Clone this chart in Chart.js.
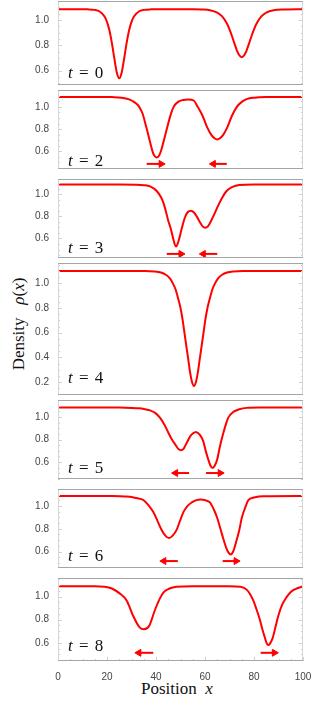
<!DOCTYPE html>
<html lang="en">
<head>
<meta charset="UTF-8">
<title>Density ρ(x) at several times</title>
<script src="https://cdn.jsdelivr.net/npm/chart.js"></script>
<style>
  html, body { margin: 0; padding: 0; background: #fff; }
  body { position: relative; width: 312px; height: 708px; overflow: hidden; font-family: 'Liberation Serif', 'DejaVu Serif', serif; color: #111; }
  .panel { position: absolute; left: 0; width: 312px; }
  .tlab { position: absolute; left: 68px; font-size: 17px; line-height: 17px; word-spacing: 2px; white-space: nowrap; }
  #ytitle { position: absolute; left: 18px; top: 324px; font-size: 17px; line-height: 17px; white-space: nowrap;
            transform: translate(-50%, -50%) rotate(-90deg); }
  #xtitle { position: absolute; left: 141px; top: 680px; font-size: 17px; line-height: 17px; white-space: nowrap; }
</style>
</head>
<body>

<div id="ytitle">Density&nbsp;&nbsp;&nbsp;<i>ρ</i>(<i>x</i>)</div>
<div id="xtitle">Position&nbsp;&nbsp;<i>x</i></div>

<script>
  // time of each panel
  const tLabels = ['0', '2', '3', '4', '5', '6', '8'];

  // density profiles
  const x0   = [0, 8, 12, 15, 17, 19, 20, 21, 22, 23, 24, 25, 26, 27, 28, 29, 30, 31, 33, 35, 38, 45, 55, 59, 62, 65, 67, 69, 70, 71, 72, 73, 74, 75, 76, 77, 78, 79, 80, 81, 83, 85, 88, 92, 100];
  const rho0 = [1.085, 1.085, 1.084, 1.080, 1.067, 1.028, 0.985, 0.917, 0.818, 0.696, 0.586, 0.540, 0.586, 0.696, 0.818, 0.917, 0.985, 1.028, 1.067, 1.080, 1.084, 1.085, 1.085, 1.083, 1.077, 1.058, 1.028, 0.970, 0.926, 0.874, 0.816, 0.761, 0.722, 0.707, 0.722, 0.761, 0.816, 0.874, 0.926, 0.970, 1.028, 1.058, 1.077, 1.083, 1.085];

  const x2   = [0, 15, 22, 26, 29, 31, 33, 34.5, 36, 37.5, 38.7, 39.5, 40.3, 41.1, 42, 43, 44.4, 46, 47.2, 49, 51, 53.2, 55.5, 57, 59, 61, 62.5, 64, 65, 66, 67.5, 69, 71, 73, 75, 77, 80, 85, 100];
  const rho2 = [1.09, 1.09, 1.088, 1.083, 1.068, 1.045, 1.005, 0.94, 0.82, 0.69, 0.59, 0.555, 0.544, 0.555, 0.60, 0.68, 0.80, 0.93, 1.0, 1.045, 1.062, 1.066, 1.055, 1.0, 0.92, 0.81, 0.75, 0.715, 0.707, 0.715, 0.75, 0.81, 0.92, 1.0, 1.045, 1.07, 1.083, 1.089, 1.09];

  const x3   = [0, 25, 32, 35, 37.6, 40.3, 42, 43, 44, 45, 46, 47, 47.6, 48.2, 48.8, 49.5, 50.5, 51.8, 53, 54.3, 55.5, 56.6, 58, 59, 60.1, 61.2, 62.5, 64, 65.4, 67, 68.8, 71, 74, 80, 100];
  const rho3 = [1.09, 1.09, 1.088, 1.083, 1.072, 1.03, 0.975, 0.925, 0.85, 0.76, 0.69, 0.60, 0.55, 0.527, 0.55, 0.60, 0.69, 0.79, 0.84, 0.852, 0.835, 0.80, 0.745, 0.71, 0.697, 0.71, 0.76, 0.83, 0.90, 0.97, 1.03, 1.065, 1.085, 1.09, 1.09];

  const x4   = [0, 35.5, 39.5, 42, 44, 45.5, 46.9, 48, 49, 50, 50.9, 51.6, 52.4, 53.2, 53.9, 54.7, 55.5, 56.3, 57.1, 57.8, 58.6, 59.4, 60.1, 61, 62, 63, 64.1, 65.5, 67, 69, 71.5, 75.5, 100];
  const rho4 = [1.10, 1.10, 1.097, 1.088, 1.07, 1.045, 1.0, 0.95, 0.88, 0.80, 0.70, 0.60, 0.49, 0.38, 0.28, 0.20, 0.168, 0.20, 0.28, 0.38, 0.49, 0.60, 0.70, 0.80, 0.88, 0.95, 1.0, 1.045, 1.07, 1.088, 1.097, 1.10, 1.10];

  const x5   = [0, 25, 30, 33, 35.5, 37.6, 39.8, 41.6, 43.5, 45, 46.5, 47.8, 49, 50.2, 51.3, 52.5, 54.3, 56.3, 58, 59.3, 60.3, 61.3, 62.2, 63.1, 64, 65, 66, 67.2, 68.3, 69.5, 71.5, 74, 77, 82, 100];
  const rho5 = [1.085, 1.085, 1.082, 1.078, 1.07, 1.06, 1.035, 0.995, 0.93, 0.863, 0.80, 0.758, 0.72, 0.705, 0.72, 0.77, 0.84, 0.868, 0.84, 0.784, 0.70, 0.626, 0.57, 0.547, 0.57, 0.626, 0.73, 0.837, 0.92, 0.995, 1.045, 1.07, 1.082, 1.085, 1.085];

  const x6   = [0, 22, 27, 29.4, 32, 34.8, 36.8, 38.9, 40.6, 42.3, 43.8, 45.3, 46.8, 48.4, 49.8, 51.2, 52.8, 54.6, 56.5, 58.2, 60, 62, 63.6, 65, 66.3, 67.5, 68.7, 69.6, 70.5, 71.5, 72.7, 74, 75, 76.3, 77.7, 80, 84, 100];
  const rho6 = [1.088, 1.088, 1.085, 1.082, 1.07, 1.053, 1.01, 0.947, 0.87, 0.79, 0.74, 0.718, 0.74, 0.79, 0.87, 0.947, 1.0, 1.032, 1.052, 1.058, 1.052, 1.032, 0.97, 0.895, 0.80, 0.71, 0.63, 0.59, 0.574, 0.60, 0.684, 0.79, 0.895, 0.98, 1.053, 1.075, 1.086, 1.088];

  const x7   = [0, 15, 19, 22, 25, 28, 30.7, 33.2, 35.1, 37.3, 39.6, 41.5, 43, 45.5, 48.4, 55, 70, 74.3, 77, 79.7, 81, 82.4, 83.5, 84.5, 85.2, 85.8, 86.6, 87.6, 88.8, 89.9, 91.5, 93.3, 95, 96.7, 100];
  const rho7 = [1.09, 1.09, 1.086, 1.07, 1.03, 0.967, 0.832, 0.736, 0.717, 0.75, 0.886, 0.98, 1.035, 1.07, 1.085, 1.09, 1.09, 1.085, 1.06, 0.967, 0.89, 0.80, 0.71, 0.64, 0.595, 0.58, 0.595, 0.64, 0.74, 0.832, 0.93, 0.995, 1.04, 1.063, 1.088];

  // direction arrows: tail x, tip x, height
  const arrowFrom = [[], [36.2, 68.9], [44.4, 65.0], [], [53.5, 60.4], [48.9, 67.2], [38.9, 82.7]];
  const arrowTo   = [[], [43.7, 61.8], [51.8, 57.7], [], [46.4, 67.8], [41.6, 74.3], [31.4, 89.9]];
  const arrowY    = [null, 0.486, 0.46, null, 0.503, 0.516, 0.513];

  // ticks
  const xTicks = [0, 20, 40, 60, 80, 100];
  const yTicksSmall = [0.6, 0.8, 1.0];
  const yTicksBig = [0.2, 0.4, 0.6, 0.8, 1.0];

  const xs = [x0, x2, x3, x4, x5, x6, x7];
  const rhos = [rho0, rho2, rho3, rho4, rho5, rho6, rho7];

  // layout of the stacked panels (px) and their value ranges
  const panelTop    = [1, 85, 174, 263, 395, 484, 573];
  const panelBottom = [85, 174, 263, 395, 484, 573, 661];
  const yMin = [0.487, 0.44, 0.423, 0.095, 0.45, 0.455, 0.442];
  const yMax = [1.150, 1.152, 1.139, 1.165, 1.152, 1.150, 1.161];
  const tLabelTop = [64, 152, 239, 369, 459, 547, 637];

  const RED = '#ff0000';
  const tickFont = { family: "'Liberation Sans', Arial, sans-serif", size: 10 };
  const tickColor = '#444';

  const framePlugin = {
    id: 'frame',
    afterDatasetsDraw(chart) {
      const { ctx, chartArea: a, scales: { x, y } } = chart;
      ctx.save();
      ctx.lineWidth = 1;
      ctx.strokeStyle = '#cfcfcf';
      ctx.beginPath();
      for (let k = Math.ceil(y.min * 20); k <= Math.floor(y.max * 20); k++) {
        const py = Math.round(y.getPixelForValue(k / 20)) + 0.5;
        const len = k % 4 === 0 ? 4 : 2;
        ctx.moveTo(a.left, py); ctx.lineTo(a.left + len, py);
        ctx.moveTo(a.right, py); ctx.lineTo(a.right - len, py);
      }
      if (chart.options.scales.x.display) {
        for (let k = 0; k <= 20; k++) {
          const px = Math.round(x.getPixelForValue(k * 5)) + 0.5;
          const len = k % 4 === 0 ? 4 : 2;
          ctx.moveTo(px, a.bottom); ctx.lineTo(px, a.bottom - len);
        }
      }
      ctx.stroke();
      ctx.strokeStyle = '#d6d6d6';
      ctx.beginPath();
      ctx.moveTo(Math.round(a.left) + 0.5, a.top); ctx.lineTo(Math.round(a.left) + 0.5, a.bottom);
      ctx.moveTo(Math.round(a.right) - 0.5, a.top); ctx.lineTo(Math.round(a.right) - 0.5, a.bottom);
      ctx.stroke();
      ctx.strokeStyle = '#a6a6a6';
      ctx.beginPath();
      ctx.moveTo(a.left, Math.round(a.top) + 0.5); ctx.lineTo(a.right, Math.round(a.top) + 0.5);
      ctx.moveTo(a.left, Math.round(a.bottom) - 0.5); ctx.lineTo(a.right, Math.round(a.bottom) - 0.5);
      ctx.stroke();
      ctx.restore();
    }
  };

  function arrowSets(from, to, y) {
    return from.map((f, i) => {
      const dir = Math.sign(to[i] - f);
      return {
        data: [{ x: f, y: y }, { x: to[i] - dir * 1.6, y: y }],
        borderColor: RED,
        backgroundColor: RED,
        borderWidth: 2,
        pointRadius: [0, 4],
        pointHoverRadius: 0,
        pointStyle: 'triangle',
        rotation: dir > 0 ? 90 : -90,
        pointBorderWidth: 1,
        tension: 0
      };
    });
  }

  tLabels.forEach((t, i) => {
    const last = i === tLabels.length - 1;
    const top = panelTop[i];
    const height = (last ? 708 : panelBottom[i]) - top;

    const box = document.createElement('div');
    box.className = 'panel';
    box.style.top = top + 'px';
    box.style.height = height + 'px';
    const canvas = document.createElement('canvas');
    box.appendChild(canvas);
    document.body.appendChild(box);

    const lab = document.createElement('div');
    lab.className = 'tlab';
    lab.style.top = tLabelTop[i] + 'px';
    lab.innerHTML = '<i>t</i> = ' + t;
    document.body.appendChild(lab);

    const yTicks = i === 3 ? yTicksBig : yTicksSmall;

    new Chart(canvas, {
      type: 'line',
      data: {
        datasets: [{
          data: xs[i].map((v, j) => ({ x: v, y: rhos[i][j] })),
          borderColor: RED,
          borderWidth: 2,
          pointRadius: 0,
          cubicInterpolationMode: 'monotone'
        }, ...arrowSets(arrowFrom[i], arrowTo[i], arrowY[i])]
      },
      options: {
        responsive: true,
        maintainAspectRatio: false,
        animation: false,
        layout: { padding: { left: 0, right: 9, top: 0, bottom: 0 } },
        plugins: { legend: { display: false }, tooltip: { enabled: false } },
        scales: {
          x: {
            type: 'linear', min: 0, max: 100, display: last,
            grid: { display: false }, border: { display: false },
            ticks: { font: tickFont, color: tickColor, padding: 2, maxRotation: 0 },
            afterBuildTicks: s => { s.ticks = xTicks.map(v => ({ value: v })); },
            afterFit: s => {
              s.height = last ? 47 : 0;
              s.paddingLeft = 0; s.paddingRight = 0;
            }
          },
          y: {
            min: yMin[i], max: yMax[i],
            grid: { display: false }, border: { display: false },
            ticks: { font: tickFont, color: tickColor, padding: 1, callback: v => v.toFixed(1) },
            afterBuildTicks: s => { s.ticks = yTicks.map(v => ({ value: v })); },
            afterFit: s => { s.width = 58; s.paddingTop = 0; s.paddingBottom = 0; }
          }
        }
      },
      plugins: [framePlugin]
    });
  });
</script>

</body>
</html>
